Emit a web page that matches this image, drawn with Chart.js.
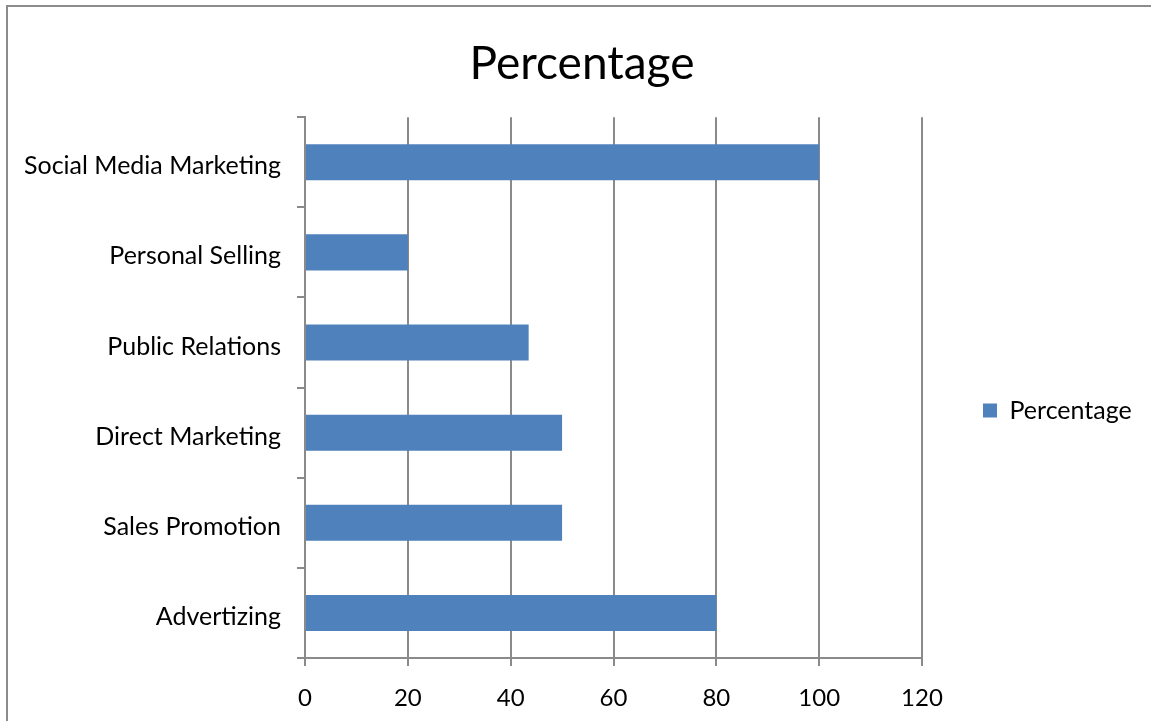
<!DOCTYPE html>
<html>
<head>
<meta charset="utf-8">
<title>Percentage</title>
<script src="https://cdn.jsdelivr.net/npm/chart.js@4"></script>
<style>
    html, body { margin: 0; padding: 0; background: #fff; overflow: hidden; }
    #wrap { position: relative; width: 1151px; height: 721px; }
    #frame {
        position: absolute; left: 6px; top: 5px;
        width: 1300px; height: 900px;
        border: 2px solid #8c8c8c; box-sizing: border-box;
        pointer-events: none;
    }
    canvas { position: absolute; left: 0; top: 0; }
</style>
</head>
<body>
<div id="wrap">
    <canvas id="percentChart" width="1151" height="721"></canvas>
    <div id="frame"></div>
</div>
<script>
const categories = ['Social Media Marketing', 'Personal Selling', 'Public Relations', 'Direct Marketing', 'Sales Promotion', 'Advertizing'];
const percentages = [100, 20, 43.5, 50, 50, 80];
const xTicks = [0, 20, 40, 60, 80, 100, 120];

const fontFamily = 'Lato, "Open Sans", sans-serif';
const lineGray = '#8a8a8a';

// move the legend right and down, out towards the frame edge
const legendNudge = {
    id: 'legendNudge',
    afterLayout(chart) {
        const lg = chart.legend;
        if (!lg) return;
        lg.left += 51;
        lg.right += 51;
        lg.top += 50;
        lg.bottom += 50;
    }
};

const ctx = document.getElementById('percentChart').getContext('2d');

const percentChart = new Chart(ctx, {
    type: 'bar',
    data: {
        labels: categories,
        datasets: [{
            label: 'Percentage',
            data: percentages,
            backgroundColor: '#4f81bd',
            borderWidth: 0,
            categoryPercentage: 0.4,
            barPercentage: 1.0
        }]
    },
    plugins: [legendNudge],
    options: {
        indexAxis: 'y',
        responsive: false,
        animation: false,
        layout: { padding: { left: 25, right: 12, top: 0, bottom: 0 } },
        plugins: {
            title: {
                display: true,
                text: 'Percentage',
                color: '#000',
                font: { family: fontFamily, size: 46, weight: 'normal' },
                padding: { top: 37, bottom: 25 }
            },
            legend: {
                position: 'right',
                labels: {
                    color: '#000',
                    boxWidth: 14,
                    boxHeight: 14,
                    font: { family: fontFamily, size: 25 }
                }
            },
            tooltip: { enabled: false }
        },
        scales: {
            x: {
                min: 0,
                max: 120,
                afterBuildTicks: scale => {
                    scale.ticks = xTicks.map(v => ({ value: v }));
                },
                afterFit: scale => {
                    scale.height = 63;
                    // keep a wide gap between the plot and the legend
                    scale.paddingRight = 229;
                },
                grid: { color: lineGray, lineWidth: 2, tickLength: 8 },
                border: { color: lineGray, width: 2 },
                ticks: {
                    color: '#000',
                    padding: 18,
                    font: { family: fontFamily, size: 24 }
                }
            },
            y: {
                afterFit: scale => { scale.width = 280; },
                grid: { offset: true, drawOnChartArea: false, color: lineGray, lineWidth: 2, tickLength: 8 },
                border: { color: lineGray, width: 2 },
                ticks: {
                    color: '#000',
                    padding: 16,
                    labelOffset: 4,
                    font: { family: fontFamily, size: 25 }
                }
            }
        }
    }
});
</script>
</body>
</html>
